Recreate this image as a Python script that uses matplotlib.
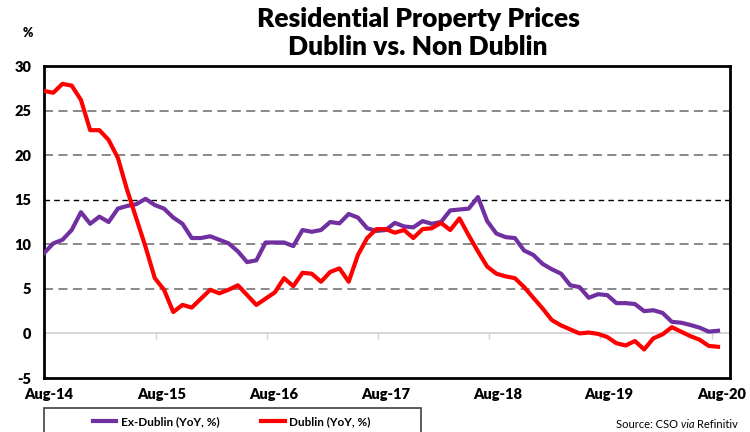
import matplotlib
matplotlib.use('Agg')
import matplotlib.pyplot as plt
from matplotlib.patches import Rectangle
import numpy as np

plt.rcParams['font.family'] = ['Lato', 'DejaVu Sans']
plt.rcParams['axes.unicode_minus'] = False

# YoY % change, monthly
ex_dublin = [9.0, 10.1, 10.5, 11.6, 13.6, 12.3, 13.1, 12.5, 14.0, 14.3,
             14.5, 15.1, 14.4, 14.0, 13.0, 12.3, 10.7, 10.7, 10.9, 10.5,
             10.1, 9.2, 8.0, 8.2, 10.2, 10.2, 10.2, 9.8, 11.6, 11.4,
             11.6, 12.5, 12.35, 13.4, 13.0, 11.8, 11.5, 11.6, 12.4, 12.0,
             11.9, 12.6, 12.3, 12.5, 13.8, 13.9, 14.0, 15.3, 12.6, 11.2,
             10.8, 10.7, 9.3, 8.8, 7.8, 7.2, 6.7, 5.4, 5.2, 4.0,
             4.4, 4.3, 3.4, 3.4, 3.3, 2.5, 2.6, 2.3, 1.3, 1.2,
             0.95, 0.65, 0.2, 0.3]
dublin = [27.2, 27.0, 28.0, 27.8, 26.2, 22.8, 22.8, 21.7, 19.7, 16.1,
          12.9, 9.7, 6.2, 4.9, 2.4, 3.2, 2.9, 3.9, 4.9, 4.5,
          4.9, 5.4, 4.3, 3.2, 3.9, 4.6, 6.2, 5.3, 6.8, 6.7,
          5.8, 6.9, 7.3, 5.8, 8.8, 10.7, 11.7, 11.7, 11.3, 11.6,
          10.7, 11.7, 11.8, 12.4, 11.6, 12.9, 11.0, 9.2, 7.5, 6.7,
          6.4, 6.2, 5.2, 4.0, 2.8, 1.5, 0.9, 0.45, 0.0, 0.1,
          -0.05, -0.4, -1.1, -1.35, -0.85, -1.8, -0.55, -0.1, 0.7, 0.2,
          -0.3, -0.7, -1.4, -1.5]

x_labels = ['Aug-14', 'Aug-15', 'Aug-16', 'Aug-17', 'Aug-18', 'Aug-19', 'Aug-20']
label_pos = [0.5, 12.7, 24.9, 37.0, 49.1, 61.2, 73.4]
year_ticks = [0.1, 12.1, 24.1, 36.2, 48.2, 60.2, 72.3]
y_ticks = [-5, 0, 5, 10, 15, 20, 25, 30]

months = np.arange(len(dublin))

fig = plt.figure(figsize=(7.5, 4.32), dpi=100)
ax = fig.add_axes([44/750, 1-378/432, 686/750, 312/432])

l1, = ax.plot(months, ex_dublin, color='#7030A0', lw=3, label='Ex-Dublin (YoY, %)', zorder=3)
l2, = ax.plot(months, dublin, color='#FF0000', lw=3, label='Dublin (YoY, %)', zorder=4)

ax.set_xlim(0, 74.3)
ax.set_ylim(-5, 30)
ax.set_yticks(y_ticks)
ax.tick_params(axis='y', length=0, pad=9, labelsize=10.5)
plt.setp(ax.get_yticklabels(), fontweight='heavy')
ax.set_xticks(label_pos, x_labels, fontweight='heavy', fontsize=10.5)
ax.tick_params(axis='x', length=0, pad=7)

ax.grid(axis='y', color='#808080', ls=(0, (5, 3)), lw=1.3)
for v, gl in zip(y_ticks, ax.get_ygridlines()):
    if v in (-5, 0, 30):
        gl.set_visible(False)
    if v == 15:
        gl.set_color('black')
        gl.set_linestyle((0, (4, 3)))
        gl.set_linewidth(1.0)

# zero line with the yearly ticks
sec = ax.secondary_xaxis(1/7)
sec.set_xticks(year_ticks)
sec.set_xticklabels([])
sec.tick_params(length=4, color='#d0d0d0', width=1, direction='out')
for s in sec.spines.values():
    s.set_color('#d0d0d0')
    s.set_linewidth(1.2)

for s in ax.spines.values():
    s.set_color('black')
    s.set_linewidth(2)

fig.text(418/750, 1-19/432, 'Residential Property Prices', ha='center', va='center',
         fontsize=19, fontweight='heavy')
fig.text(418/750, 1-47/432, 'Dublin vs. Non Dublin', ha='center', va='center',
         fontsize=19, fontweight='heavy')
fig.text(28/750, 1-33/432, '%', ha='center', va='center', fontsize=9, fontweight='heavy')

# legend box (cut at the bottom of the image)
fig.add_artist(Rectangle((44/750, -0.05), (421-44)/750, 1-408/432+0.05,
                         transform=fig.transFigure, fill=False, edgecolor='#404040', lw=1.2))
fig.legend(handles=[l1, l2], loc='center left', bbox_to_anchor=(82/750, 1-422/432),
           ncol=2, frameon=False, handlelength=2, handletextpad=0.4, columnspacing=3.5,
           prop={'weight': 'bold', 'size': 8.5})

# source note, "via" in italics
r = fig.canvas.get_renderer()
xs = 738/750
for txt, st in reversed([('Source: CSO ', 'normal'), ('via ', 'italic'), ('Refinitiv', 'normal')]):
    t = fig.text(xs, 1-424/432, txt, ha='right', va='center', fontsize=8, style=st)
    xs -= t.get_window_extent(r).width / 750

fig.savefig('out.png', dpi=100)
